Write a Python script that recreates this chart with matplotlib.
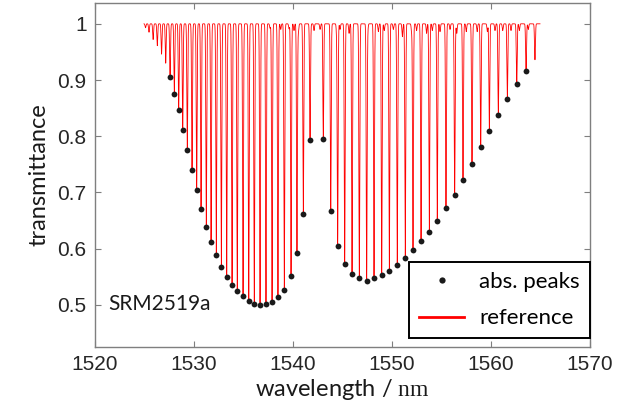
import numpy as np
import matplotlib
matplotlib.use("Agg")
import matplotlib.pyplot as plt
from matplotlib.lines import Line2D

plt.rcParams["mathtext.fontset"] = "custom"
plt.rcParams["mathtext.rm"] = "Liberation Serif"

# ---- data ----
# absorption peaks (wavelength in nm, transmittance at line centre)
peak_wl = [1527.58, 1528.01, 1528.45, 1528.86, 1529.32, 1529.80, 1530.27, 1530.71,
           1531.24, 1531.72, 1532.25, 1532.76, 1533.30, 1533.84, 1534.37, 1534.95,
           1535.53, 1536.09, 1536.67, 1537.27, 1537.88, 1538.48, 1539.12, 1539.80,
           1540.40, 1541.04, 1541.72,
           1543.06, 1543.81, 1544.51, 1545.22, 1545.96, 1546.70, 1547.44, 1548.18,
           1548.96, 1549.73, 1550.53, 1551.34, 1552.12, 1552.93, 1553.77, 1554.57,
           1555.45, 1556.33, 1557.17, 1558.08, 1558.96, 1559.83, 1560.74, 1561.65,
           1562.60, 1563.54]
peak_T = [0.906, 0.875, 0.847, 0.811, 0.776, 0.740, 0.705, 0.671,
          0.639, 0.612, 0.588, 0.567, 0.550, 0.536, 0.524, 0.515,
          0.507, 0.502, 0.500, 0.501, 0.505, 0.514, 0.527, 0.552,
          0.593, 0.662, 0.793,
          0.795, 0.667, 0.605, 0.572, 0.554, 0.547, 0.542, 0.548,
          0.553, 0.560, 0.571, 0.584, 0.597, 0.613, 0.630, 0.650,
          0.672, 0.696, 0.722, 0.751, 0.781, 0.810, 0.838, 0.866,
          0.893, 0.916]

# further reference lines without marked peaks (band edges)
edge_wl = [1525.10, 1525.45, 1525.87, 1526.29, 1526.72, 1527.14, 1564.44]
edge_T = [0.993, 0.985, 0.972, 0.961, 0.946, 0.930, 0.936]

# weak (hot-band) lines near the top
weak_wl = [1537.68, 1538.76, 1539.60, 1540.10, 1540.54, 1542.12, 1542.73, 1544.41,
           1544.75, 1545.66, 1547.55, 1548.62, 1549.22, 1550.13, 1551.05, 1551.98,
           1552.48, 1553.49, 1554.07, 1554.85, 1555.86, 1556.54, 1557.50, 1558.60,
           1559.63, 1560.40, 1561.18, 1562.02, 1562.86, 1563.77]
weak_T = [0.992, 0.990, 0.991, 0.988, 0.986, 0.988, 0.990, 0.983,
          0.990, 0.983, 0.990, 0.986, 0.988, 0.990, 0.977, 0.986,
          0.988, 0.983, 0.988, 0.986, 0.990, 0.983, 0.986, 0.986,
          0.986, 0.988, 0.988, 0.988, 0.988, 0.990]

spec_range = (1524.95, 1564.95)
line_sigma = 0.045  # nm, line width of the reference profile

x_ticks = [1520, 1530, 1540, 1550, 1560, 1570]
y_ticks = [0.5, 0.6, 0.7, 0.8, 0.9, 1.0]
y_ticklabels = ["0.5", "0.6", "0.7", "0.8", "0.9", "1"]

# ---- reference spectrum built from the line list ----
all_wl = np.array(peak_wl + edge_wl + weak_wl)
all_T = np.array(peak_T + edge_T + weak_T)
grid = np.unique(np.concatenate([
    np.arange(spec_range[0], spec_range[1], 0.003), all_wl]))
absorb = np.zeros_like(grid)
for c, t in zip(all_wl, all_T):
    absorb += (1 - t) * np.exp(-0.5 * ((grid - c) / line_sigma) ** 2)
spectrum = 1 - absorb

# ---- plot ----
fig = plt.figure(figsize=(6.28, 4.08), dpi=100)
ax = fig.add_axes([0.1513, 0.1495, 0.7882, 0.8431])

ax.plot(grid, spectrum, color="#ff0000", lw=0.6, zorder=2)
ax.plot(peak_wl, peak_T, "o", color="#1a1a1a", ms=4.2, mec="none", zorder=3)

ax.set_xlim(1520, 1570)
ax.set_ylim(0.425, 1.037)
ax.set_xticks(x_ticks)
ax.set_yticks(y_ticks)
ax.set_yticklabels(y_ticklabels)

spine_col = "#7f7f7f"
for s in ax.spines.values():
    s.set_color(spine_col)
    s.set_linewidth(1.0)
ax.tick_params(direction="in", length=4, width=0.8, color=spine_col,
               top=True, right=True, labelsize=15, labelcolor="#262626",
               pad=6)
for lab in ax.get_xticklabels() + ax.get_yticklabels():
    lab.set_family(["Liberation Sans", "DejaVu Sans"])

ax.set_xlabel("wavelength / $\\mathrm{nm}$", fontsize=17,
              family=["Lato", "DejaVu Sans"], color="#1a1a1a", labelpad=2)
ax.set_ylabel("transmittance", fontsize=17, family=["Lato", "DejaVu Sans"],
              color="#1a1a1a", labelpad=6)

ax.text(0.026, 0.125, "SRM2519a", transform=ax.transAxes, fontsize=15,
        family=["Lato", "DejaVu Sans"], va="center", ha="left", color="#1a1a1a")

handles = [Line2D([], [], ls="none", marker="o", color="#1a1a1a", ms=4.5, mec="none"),
           Line2D([], [], color="#ff0000", lw=2)]
leg = ax.legend(handles, ["abs. peaks", "reference"], loc="lower right",
                bbox_to_anchor=(1.0, 0.025), prop={"family": "Lato", "size": 16},
                frameon=True, fancybox=False, framealpha=1, edgecolor="black",
                borderpad=0.45, handlelength=2.0, handletextpad=0.7,
                labelspacing=0.75, borderaxespad=0.0)
leg.get_frame().set_linewidth(1.4)

fig.savefig("out.png", dpi=100)
